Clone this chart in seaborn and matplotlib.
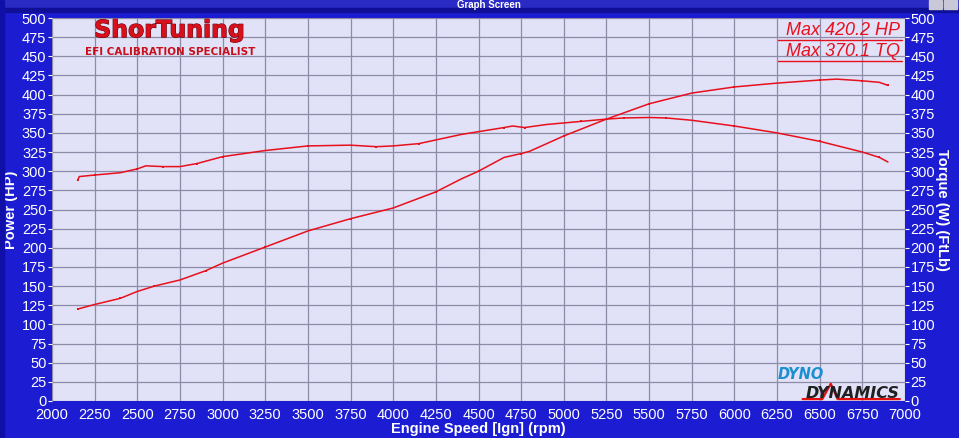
import matplotlib
matplotlib.use("Agg")
import matplotlib.pyplot as plt
from matplotlib.patches import Rectangle
import matplotlib.patheffects as pe
import seaborn as sns
import pandas as pd

# power curve (HP)
rpm_hp = [2150, 2250, 2400, 2500, 2600, 2750, 2900, 3000, 3250, 3500, 3750, 4000,
          4250, 4400, 4500, 4650, 4750, 4800, 5000, 5250, 5500, 5750, 6000, 6250,
          6500, 6600, 6750, 6850, 6900]
hp = [120, 126, 134, 143, 150, 158, 170, 180, 201, 222, 238, 252,
      273, 290, 300, 318, 323, 326, 346, 368, 388, 402, 410, 415,
      419, 420.2, 418, 416, 412]

# torque curve (ft-lb)
rpm_tq = [2150, 2160, 2250, 2400, 2500, 2550, 2650, 2750, 2850, 2900, 3000, 3250,
          3500, 3750, 3900, 4000, 4150, 4400, 4650, 4700, 4770, 4900, 5100, 5250,
          5350, 5500, 5600, 5750, 6000, 6250, 6500, 6750, 6850, 6900]
tq = [288, 293, 295, 298, 303, 307, 306, 306, 310, 313, 319, 327,
      333, 334, 332, 333, 336, 348, 357, 359, 357, 361, 365, 368,
      369.5, 370.1, 369.5, 366.5, 359, 350, 339, 325, 318, 312]

x_ticks = list(range(2000, 7001, 250))
y_ticks = list(range(0, 501, 25))

BG = '#1c1cd2'
PLOT_BG = '#e1e1f8'
RED = '#e8101c'
GRID = '#8c8ca8'

sns.set_theme(style='white')
plt.rcParams['font.family'] = ['Liberation Sans', 'DejaVu Sans']

fig = plt.figure(figsize=(9.59, 4.38), dpi=100, facecolor=BG)
ax = fig.add_axes([52 / 959, 1 - 401 / 438, 853 / 959, 383 / 438])
ax.set_facecolor(PLOT_BG)

df_hp = pd.DataFrame({'rpm': rpm_hp, 'val': hp})
df_tq = pd.DataFrame({'rpm': rpm_tq, 'val': tq})

sns.lineplot(data=df_hp, x='rpm', y='val', ax=ax, color=RED, lw=1.1,
             estimator=None, marker='s', markersize=2, markeredgewidth=0,
             markevery=2, zorder=3)
ax2 = ax.twinx()
sns.lineplot(data=df_tq, x='rpm', y='val', ax=ax2, color=RED, lw=1.1,
             estimator=None, marker='s', markersize=2, markeredgewidth=0,
             markevery=2, zorder=3)

for a in (ax, ax2):
    a.set_xlim(2000, 7000)
    a.set_ylim(0, 500)
    a.set_yticks(y_ticks)
    for s in a.spines.values():
        s.set_visible(False)
    a.tick_params(axis='y', colors='white', labelsize=10.5, length=3,
                  width=0.8, pad=1)
ax.tick_params(axis='x', colors='white', labelsize=10.5, length=3,
               width=0.8, pad=2)

ax.set_xticks(x_ticks)
ax.grid(True, color=GRID, lw=0.9)
ax.set_axisbelow(True)
ax.set_xlabel('Engine Speed [Ign] (rpm)', color='white', fontsize=10.5,
              fontweight='bold', labelpad=0)
ax.set_ylabel('Power (HP)', color='white', fontsize=10.5, fontweight='bold',
              labelpad=3)
ax2.set_ylabel('Torque (W) (FtLb)', color='white', fontsize=10.5,
               fontweight='bold', rotation=-90, labelpad=10)
ax2.set_xlabel('')

# logo text
outline = [pe.withStroke(linewidth=0.8, foreground='#6a000a')]
ax.text(0.138, 0.950, 'ShorTuning', transform=ax.transAxes, color='#d8101c',
        fontsize=17, fontweight='bold', ha='center', va='baseline',
        family='DejaVu Sans', path_effects=outline)
ax.text(0.139, 0.912, 'EFI CALIBRATION SPECIALIST', transform=ax.transAxes,
        color='#c8101a', fontsize=7.5, fontweight='bold', ha='center',
        va='center', family='DejaVu Sans')

# max values, underlined
for yy, s in ((0.968, 'Max 420.2 HP'), (0.913, 'Max 370.1 TQ')):
    ax.text(0.994, yy, s, transform=ax.transAxes, color=RED, fontsize=13,
            style='italic', ha='right', va='center')
    ax.plot([0.851, 0.997], [yy - 0.026, yy - 0.026], transform=ax.transAxes,
            color=RED, lw=1, clip_on=False)

# dyno dynamics logo
ax.text(0.851, 0.058, 'DYNO', transform=ax.transAxes, color='#1b8fd0',
        fontsize=10.5, fontweight='bold', style='italic', ha='left',
        va='baseline', family='DejaVu Sans')
ax.text(0.994, 0.008, 'DYNAMICS', transform=ax.transAxes, color='#202020',
        fontsize=11.5, fontweight='bold', style='italic', ha='right',
        va='baseline', family='DejaVu Sans')
ax.plot([0.880, 0.903, 0.913, 0.921, 0.994], [0.005, 0.005, 0.045, 0.005, 0.005],
        transform=ax.transAxes, color='#e01010', lw=1.6)

# window title bar
fig.patches.append(Rectangle((0, 1 - 8 / 438), 1, 8 / 438, transform=fig.transFigure,
                             color='#2a2ac4', zorder=0))
fig.patches.append(Rectangle((0, 1 - 12 / 438), 1, 4 / 438, transform=fig.transFigure,
                             color='#0f0f98', zorder=0))
fig.patches.append(Rectangle((0, 0), 4 / 959, 1, transform=fig.transFigure,
                             color='#1010a8', zorder=0))
for bx in (929, 944):
    fig.patches.append(Rectangle((bx / 959, 1 - 9 / 438), 13 / 959, 9 / 438,
                                 transform=fig.transFigure, color='#c8c8d8',
                                 zorder=1))
fig.text(0.51, 1 - 4.5 / 438, 'Graph Screen', color='white', fontsize=7,
         fontweight='bold', ha='center', va='center')

fig.savefig('out.png', dpi=100, facecolor=BG)
